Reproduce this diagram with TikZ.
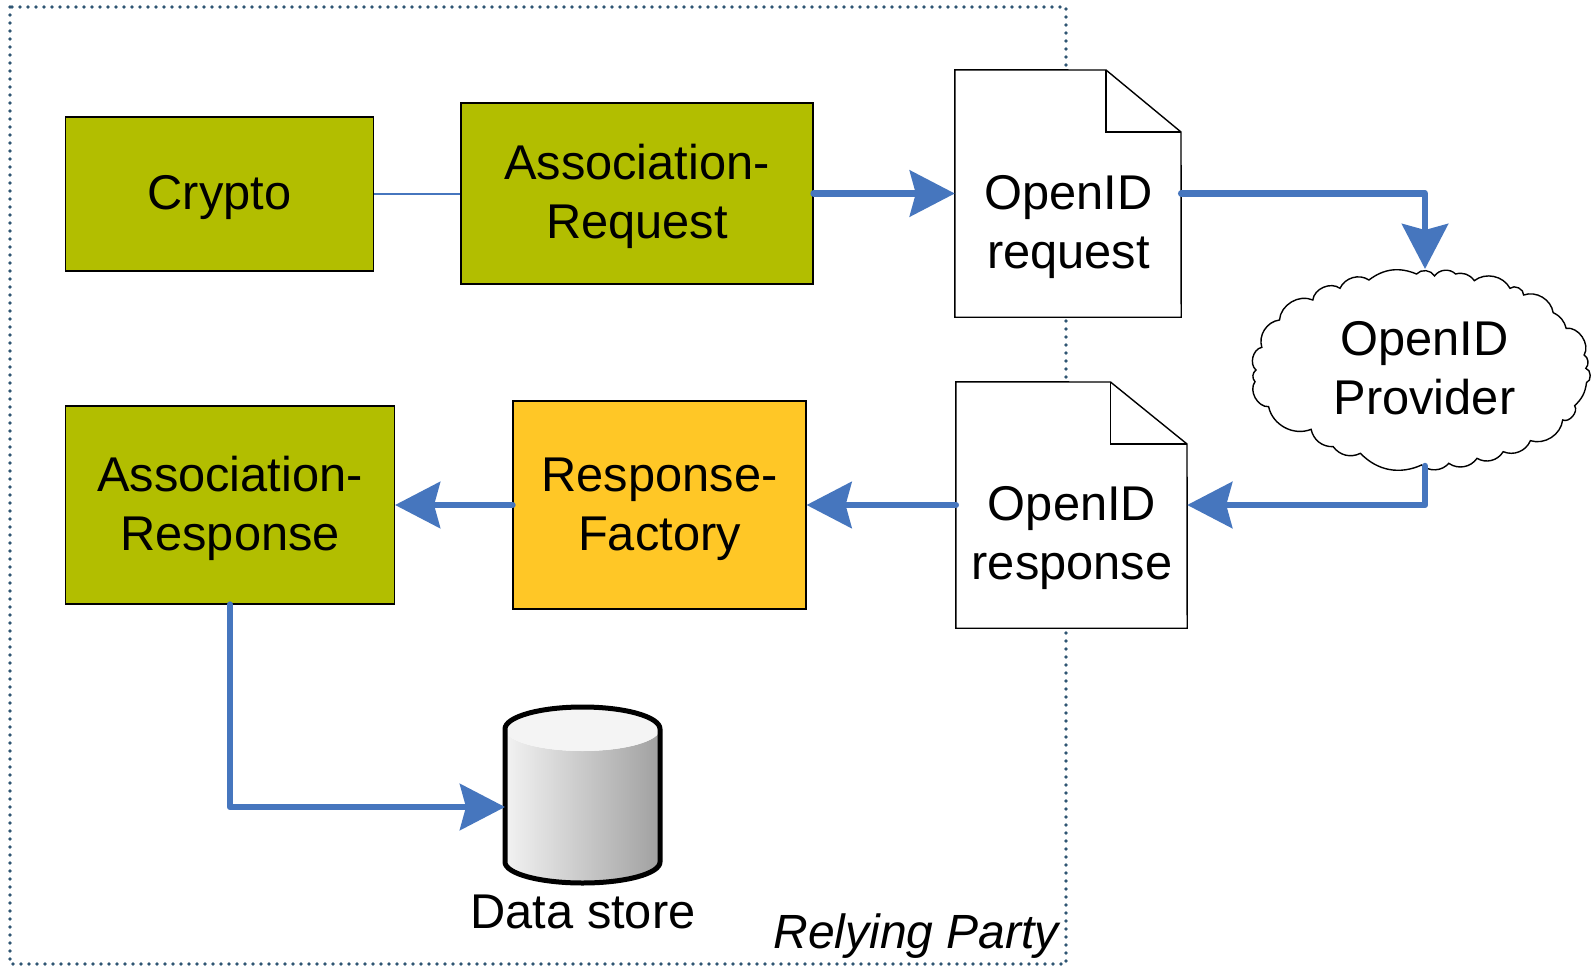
\documentclass[tikz,border=0pt]{standalone}
\usepackage{fontspec}
\setmainfont{Liberation Sans}
\usetikzlibrary{arrows.meta}
\definecolor{olivebox}{HTML}{B2BE00}
\definecolor{orangebox}{HTML}{FFC726}
\definecolor{flowblue}{HTML}{4676BE}
\definecolor{dotblue}{HTML}{2F5573}
\newcommand{\pushdown}{\rule{0pt}{41.5pt}}
\tikzset{
  lbl/.style={font=\fontsize{48.8}{59}\selectfont, align=center, inner sep=0pt},
  block/.style={lbl, draw=black, line width=1.1pt, anchor=center},
  docbox/.style={minimum width=226pt, inner sep=0pt},
  flow/.style={draw=flowblue, line width=6.5pt, line cap=round, line join=round,
    -{Stealth[length=45pt,width=46pt,inset=6pt]}},
  thinlink/.style={draw=flowblue, line width=1.2pt},
  outline/.style={draw=black, line width=1.4pt, fill=white, line join=miter},
  foldline/.style={draw=black, line width=1.4pt, line join=miter},
  boundary/.style={draw=dotblue, line width=3.8pt, line cap=round, dash pattern=on 0pt off 8pt},
  puff/.style={bend left=#1},
}
\begin{document}
\begin{tikzpicture}[x=1pt,y=-1pt]
\useasboundingbox (0,0) rectangle (1593,966);
\fill[white] (0,0) rectangle (1593,966);
\draw[boundary] (10,7) rectangle (1066,964);

% blocks
\node[block, fill=olivebox, minimum width=308pt, minimum height=154pt] (crypto) at (219.5,194) {\pushdown Crypto};
\node[block, fill=olivebox, minimum width=352pt, minimum height=181pt] (areq) at (637,193.5) {\pushdown Association-\\Request};
\node[block, fill=orangebox, minimum width=293pt, minimum height=208pt] (rf) at (659.5,505) {\pushdown Response-\\Factory};
\node[block, fill=olivebox, minimum width=329pt, minimum height=198pt] (ares) at (230,505) {\pushdown Association-\\Response};

% documents
\node[docbox, minimum height=247pt] (doca) at (1068,193.5) {};
\draw[outline] (doca.north west) -- (1106,70) -- (1181,132) -- (doca.south east) -- (doca.south west) -- cycle;
\draw[foldline] (1106,70) -- (1106,132) -- (1181,132);
\node[lbl] (docatext) at (1068.5,227.5) {OpenID\\request};

\node[docbox, minimum width=231pt, minimum height=246pt] (docb) at (1071.5,505) {};
\draw[outline] (docb.north west) -- (1110.5,382) -- (1187,444) -- (docb.south east) -- (docb.south west) -- cycle;
\draw[foldline] (1110.5,382) -- (1110.5,444) -- (1187,444);
\node[lbl] (docbtext) at (1072,538.5) {OpenID\\response};

% cloud
\coordinate (cloudtop) at (1425,269);
\coordinate (cloudbot) at (1425,466);
\begin{scope}[shift={(1195.5,240)},x=0.34pt,y=-0.33333pt]
\draw[outline] (650,102)
  to[puff=55] (703,108)
  to[puff=50] (765,102)
  to[puff=35] (820,122)
  to[puff=50] (925,145)
  to[puff=70] (965,165)
  to[puff=50] (1052,218)
  to[puff=25] (1090,265)
  to[puff=65] (1143,345)
  to[puff=50] (1148,385)
  to[puff=75] (1150,428)
  to[puff=20] (1115,497)
  to[puff=75] (1080,540)
  to[puff=50] (985,602)
  to[puff=45] (905,635)
  to[puff=45] (828,655)
  to[puff=45] (745,670)
  to[puff=45] (665,675)
  to[puff=35] (485,640)
  to[puff=40] (405,620)
  to[puff=40] (340,568)
  to[puff=50] (215,500)
  to[puff=65] (175,425)
  to[puff=50] (178,390)
  to[puff=65] (195,322)
  to[puff=50] (247,240)
  to[puff=55] (345,180)
  to[puff=60] (425,145)
  to[puff=50] (510,120)
  to[puff=30] (650,102) -- cycle;
\end{scope}
\node[lbl, minimum width=340pt, minimum height=200pt] (cloud) at (1424.5,368) {OpenID\\Provider};

% data store
\node[minimum width=155pt, minimum height=176pt, inner sep=0pt] (db) at (582.5,795) {};
\shade[left color=black!5, right color=black!37]
  (505,729) arc[start angle=180,end angle=0,x radius=77.5,y radius=22]
  -- (660,862) arc[start angle=0,end angle=180,x radius=77.5,y radius=21] -- cycle;
\fill[black!4.5] (582.5,729) ellipse[x radius=77.5,y radius=22];
\draw[line width=5pt, line join=round]
  (505,729) arc[start angle=180,end angle=360,x radius=77.5,y radius=22]
  -- (660,862) arc[start angle=0,end angle=180,x radius=77.5,y radius=21] -- cycle;
\node[lbl] (dbtext) at (583,911.5) {Data store};
\coordinate (dbin) at (505,807);

% boundary label
\node[lbl, font=\fontsize{48}{59}\selectfont\itshape, anchor=east] (rp) at (1059,936.5) {Relying Party};

% connectors
\draw[thinlink] (crypto.east) -- (areq.west |- crypto.east);
\draw[flow] (areq.east) -- (doca.west);
\draw[flow] (doca.east) -| (cloudtop);
\draw[flow] (cloudbot) |- (docb.east);
\draw[flow] (docb.west) -- (rf.east);
\draw[flow] (rf.west) -- (ares.east);
\draw[flow] (ares.south) |- (dbin);
\end{tikzpicture}
\end{document}
